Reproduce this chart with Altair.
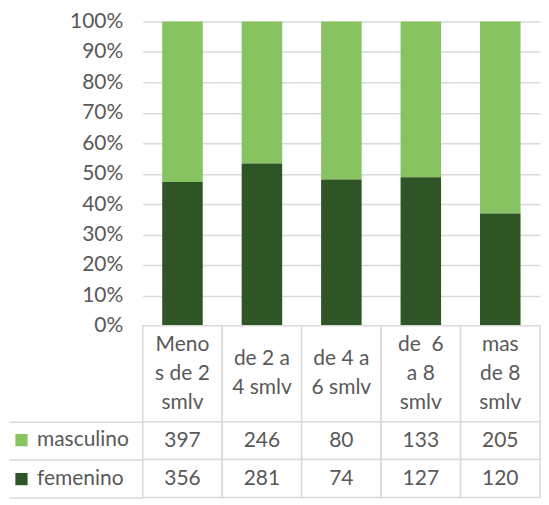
import altair as alt
import pandas as pd

categories = ["Meno\ns de 2\nsmlv", "de 2 a\n4 smlv", "de 4 a\n6 smlv", "de \u00a06\na 8\nsmlv", "mas\nde 8\nsmlv"]
series = ["masculino", "femenino"]
masculino = [397, 246, 80, 133, 205]
femenino = [356, 281, 74, 127, 120]

LIGHT = "#87C461"
DARK = "#2F5426"
TEXT = "#595959"
GRID = "#D9D9D9"
FONT = "Lato"
FS = 21
LH = 29

rows = []
for i, c in enumerate(categories):
    rows.append({"cat": c, "series": "masculino", "value": masculino[i], "ord": 1})
    rows.append({"cat": c, "series": "femenino", "value": femenino[i], "ord": 0})
df = pd.DataFrame(rows)
cat_df = pd.DataFrame({"cat": categories, "nlines": [c.count("\n") + 1 for c in categories]})

W = 398
xscale = alt.Scale(domain=categories, paddingInner=0, paddingOuter=0)
color_scale = alt.Scale(domain=series, range=[LIGHT, DARK])

bars = alt.Chart(df).mark_bar(width=alt.RelativeBandSize(0.51)).encode(
    x=alt.X("cat:N", sort=categories, scale=xscale, axis=None),
    y=alt.Y("value:Q", stack="normalize", scale=alt.Scale(domain=[0, 1], nice=False),
            axis=alt.Axis(format="%", values=[i / 10 for i in range(11)], grid=True,
                          gridColor=GRID, gridWidth=1.5, domain=False, ticks=False,
                          labelPadding=20, minExtent=134, maxExtent=134, title=None,
                          labelFont=FONT, labelFontSize=FS, labelColor=TEXT)),
    color=alt.Color("series:N", scale=color_scale,
                    legend=alt.Legend(orient="none", legendX=-132, legendY=409, title=None,
                                      symbolType="square", symbolSize=150, symbolStrokeWidth=0,
                                      labelFont=FONT, labelFontSize=FS, labelColor=TEXT,
                                      labelOffset=5, rowPadding=17, padding=0)),
    order=alt.Order("ord:Q"),
).properties(width=W, height=305)

hbase = alt.Chart(cat_df).encode(x=alt.X("cat:N", sort=categories, scale=xscale, axis=None))
htext = dict(lineBreak="\n", font=FONT, fontSize=FS, color=TEXT, lineHeight=LH,
             baseline="middle", align="center")
header = alt.layer(
    hbase.mark_rect(fill="white", stroke=GRID, strokeWidth=1.5),
    hbase.transform_filter("datum.nlines == 3").mark_text(dy=-LH, **htext).encode(text="cat:N"),
    hbase.transform_filter("datum.nlines == 2").mark_text(dy=-LH / 2, **htext).encode(text="cat:N"),
).properties(width=W, height=96)

rbase = alt.Chart(df).encode(
    x=alt.X("cat:N", sort=categories, scale=xscale, axis=None),
    y=alt.Y("series:N", sort=series, scale=alt.Scale(paddingInner=0, paddingOuter=0),
            axis=alt.Axis(labels=False, ticks=True, tickBand="extent", tickSize=134,
                          tickColor=GRID, tickWidth=1.5, domain=False, title=None,
                          minExtent=134, maxExtent=134)),
)
table = alt.layer(
    rbase.mark_rect(fill="white", stroke=GRID, strokeWidth=1.5),
    rbase.mark_text(font=FONT, fontSize=FS, color=TEXT, baseline="middle", align="center").encode(text="value:Q"),
).properties(width=W, height=76)

chart = alt.vconcat(bars, header, table, spacing=0, bounds="flush").properties(
    padding={"left": 0, "top": 2, "right": 0, "bottom": 0}
).configure_view(stroke=None).configure_concat(spacing=0)

chart.save("out.html", embed_options={"renderer": "svg", "actions": False})
